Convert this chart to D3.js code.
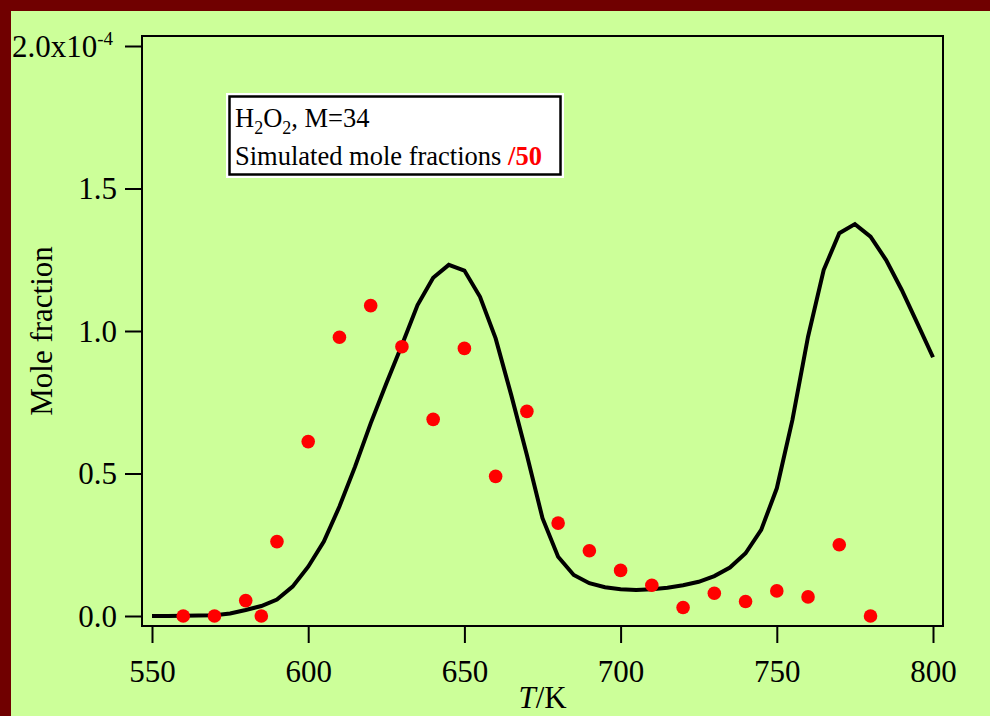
<!DOCTYPE html>
<html>
<head>
<meta charset="utf-8">
<script src="https://cdn.jsdelivr.net/npm/d3@7"></script>
<style>
    html, body { margin: 0; padding: 0; background: #ccff99; }
    text { font-family: 'Liberation Serif', 'Times New Roman', serif; fill: #000; }
</style>
</head>
<body>
<div id="chart"></div>
<script>
'use strict';

// Measured mole fractions (x1e-4)
const measT = [560, 570, 580, 585, 590, 600, 610, 620, 630, 640, 650, 660, 670,
    680, 690, 700, 710, 720, 730, 740, 750, 760, 770, 780];
const measX = [0.0, 0.0, 0.054, 0.0, 0.261, 0.612, 0.978, 1.089, 0.945, 0.690, 0.939, 0.490, 0.718,
    0.326, 0.229, 0.160, 0.108, 0.030, 0.080, 0.051, 0.088, 0.067, 0.250, 0.0];

// Simulated mole fractions /50 (x1e-4)
const simT = [550, 555, 560, 565, 570, 575, 580, 585, 590, 595, 600, 605, 610, 615, 620, 625,
    630, 635, 640, 645, 650, 655, 660, 665, 670, 675, 680, 685, 690, 695, 700, 705, 710,
    715, 720, 725, 730, 735, 740, 745, 750, 755, 760, 765, 770, 775, 780, 785, 790, 795, 800];
const simX = [0.0, 0.0, 0.001, 0.002, 0.003, 0.009, 0.021, 0.035, 0.058, 0.103, 0.173, 0.261,
    0.384, 0.524, 0.676, 0.816, 0.951, 1.091, 1.187, 1.232, 1.212, 1.120, 0.974, 0.775, 0.565,
    0.343, 0.208, 0.144, 0.115, 0.101, 0.094, 0.091, 0.094, 0.099, 0.108, 0.120, 0.140, 0.170,
    0.220, 0.302, 0.448, 0.688, 0.980, 1.214, 1.343, 1.375, 1.331, 1.249, 1.144, 1.027, 0.908];

const xTicks = [550, 600, 650, 700, 750, 800];
const yTicks = [0, 0.5, 1.0, 1.5, 2.0];

class MolePlot {

    constructor(_ref) {
        this.parent = _ref;
        this.initVis();
    }

    initVis() {
        const vis = this;

        vis.w = 990;
        vis.h = 716;

        vis.svg = d3.select(`#${vis.parent}`)
            .append('svg')
            .attr('width', vis.w)
            .attr('height', vis.h)
            .style('display', 'block');

        // Background + dark border top/left
        vis.svg.append('rect')
            .attr('width', vis.w).attr('height', vis.h)
            .attr('fill', '#700000');
        vis.svg.append('rect')
            .attr('x', 11).attr('y', 11)
            .attr('width', vis.w - 11).attr('height', vis.h - 11)
            .attr('fill', '#ccff99');

        // Frame
        vis.frame = {left: 142, top: 36, right: 943, bottom: 626};

        // Scales
        vis.xScale = d3.scaleLinear()
            .domain([550, 800])
            .range([152, 933]);
        vis.yScale = d3.scaleLinear()
            .domain([0, 2])
            .range([616, 46]);

        vis.updateVis();
    }

    updateVis() {
        const vis = this;
        const f = vis.frame;

        // Axes
        const xAxis = d3.axisBottom(vis.xScale)
            .tickValues(xTicks)
            .tickSize(17)
            .tickFormat(d3.format('d'));
        const xG = vis.svg.append('g')
            .attr('transform', `translate(0,${f.bottom})`)
            .call(xAxis);
        xG.select('.domain').remove();
        xG.selectAll('.tick line').attr('stroke', '#000').attr('stroke-width', 2);
        xG.selectAll('.tick text')
            .attr('y', 56).attr('dy', null)
            .style('font-size', '31px')
            .attr('fill', '#000');

        const yAxis = d3.axisLeft(vis.yScale)
            .tickValues(yTicks)
            .tickSize(17)
            .tickPadding(8)
            .tickFormat(d => d === 2 ? '2.0x10' : d3.format('.1f')(d));
        const yG = vis.svg.append('g')
            .attr('transform', `translate(${f.left},0)`)
            .call(yAxis);
        yG.select('.domain').remove();
        yG.selectAll('.tick line').attr('stroke', '#000').attr('stroke-width', 2);
        yG.selectAll('.tick text')
            .attr('dy', '0.33em')
            .style('font-size', '31px')
            .attr('fill', '#000');
        // Exponent on the top label
        yG.selectAll('.tick text')
            .filter(d => d === 2)
            .attr('text-anchor', 'start')
            .attr('x', -130)
            .append('tspan')
            .attr('dy', '-0.62em')
            .style('font-size', '19px')
            .text('-4');

        // Frame rect
        vis.svg.append('rect')
            .attr('x', f.left).attr('y', f.top)
            .attr('width', f.right - f.left).attr('height', f.bottom - f.top)
            .attr('fill', 'none')
            .attr('stroke', '#000')
            .attr('stroke-width', 2);

        // Axis titles
        const tt = vis.svg.append('text')
            .attr('x', (f.left + f.right) / 2)
            .attr('y', 708)
            .attr('text-anchor', 'middle')
            .style('font-size', '31px');
        tt.append('tspan').style('font-style', 'italic').text('T');
        tt.append('tspan').text('/K');

        vis.svg.append('text')
            .attr('transform', `translate(52,${(f.top + f.bottom) / 2}) rotate(-90)`)
            .attr('text-anchor', 'middle')
            .style('font-size', '31px')
            .text('Mole fraction');

        // Simulated curve
        const line = d3.line()
            .x((d, i) => vis.xScale(simT[i]))
            .y(d => vis.yScale(d));
        vis.svg.append('path')
            .datum(simX)
            .attr('d', line)
            .attr('fill', 'none')
            .attr('stroke', '#000')
            .attr('stroke-width', 4)
            .attr('stroke-linejoin', 'miter');

        // Measured points
        vis.svg.selectAll('.pt')
            .data(measX)
            .join('circle')
            .attr('class', 'pt')
            .attr('cx', (d, i) => vis.xScale(measT[i]))
            .attr('cy', d => vis.yScale(d))
            .attr('r', 6.8)
            .attr('fill', '#ff0000');

        // Legend box
        const lg = vis.svg.append('g');
        lg.append('rect')
            .attr('x', 226).attr('y', 93)
            .attr('width', 338).attr('height', 85)
            .attr('fill', '#fff');
        lg.append('rect')
            .attr('x', 229.5).attr('y', 96.5)
            .attr('width', 331).attr('height', 78)
            .attr('fill', 'none')
            .attr('stroke', '#000')
            .attr('stroke-width', 2.5);

        const l1 = lg.append('text')
            .attr('x', 235).attr('y', 127)
            .style('font-size', '26.5px');
        l1.append('tspan').text('H');
        l1.append('tspan').attr('dy', 7).style('font-size', '18px').text('2');
        l1.append('tspan').attr('dy', -7).text('O');
        l1.append('tspan').attr('dy', 7).style('font-size', '18px').text('2');
        l1.append('tspan').attr('dy', -7).text(', M=34');

        const l2 = lg.append('text')
            .attr('x', 235).attr('y', 165)
            .style('font-size', '26.5px');
        l2.append('tspan').text('Simulated mole fractions ');
        l2.append('tspan')
            .style('font-weight', 'bold')
            .style('fill', '#ff0000')
            .text('/50');
    }
}

new MolePlot('chart');
</script>
</body>
</html>
